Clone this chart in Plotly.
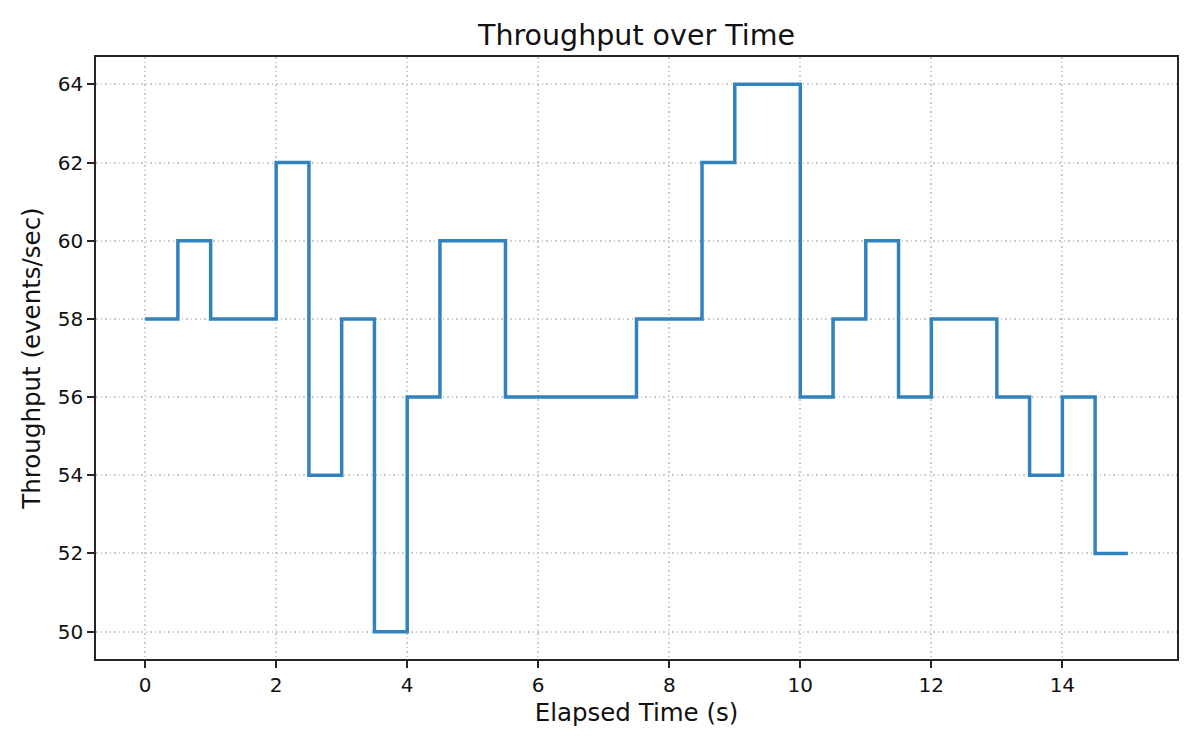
import plotly.graph_objects as go

# elapsed time (s) and throughput (events/sec), step plot (post)
elapsed = [0, 0.5, 1, 1.5, 2, 2.5, 3, 3.5, 4, 4.5, 5, 5.5, 6, 6.5, 7, 7.5,
           8, 8.5, 9, 9.5, 10, 10.5, 11, 11.5, 12, 12.5, 13, 13.5, 14, 14.5, 15]
throughput = [58, 60, 58, 58, 62, 54, 58, 50, 56, 60, 60, 56, 56, 56, 56, 58,
              58, 62, 64, 64, 56, 58, 60, 56, 58, 58, 56, 54, 56, 52, 52]

x_ticks = [0, 2, 4, 6, 8, 10, 12, 14]
y_ticks = [50, 52, 54, 56, 58, 60, 62, 64]

fig = go.Figure()
fig.add_trace(go.Scatter(
    x=elapsed,
    y=throughput,
    mode='lines',
    line=dict(shape='hv', color='#3182bd', width=3.5),
    showlegend=False
))

axis_common = dict(
    showline=True,
    linecolor='#262626',
    linewidth=1.7,
    mirror=True,
    ticks='outside',
    ticklen=7,
    tickwidth=1.7,
    tickcolor='#262626',
    showgrid=True,
    gridcolor='#cccccc',
    griddash='1.7px,2.8px',
    gridwidth=1.6,
    zeroline=False,
    tickfont=dict(family='DejaVu Sans', size=20, color='#111111'),
)

# page body adds an 8px offset, so margins are shifted to compensate
fig.update_layout(
    width=1200,
    height=750,
    plot_bgcolor='white',
    paper_bgcolor='white',
    margin=dict(l=88, r=31, t=49, b=99),
    title=dict(text='Throughput over Time', x=0.5, xanchor='center',
               xref='paper',
               y=0.964, yanchor='middle',
               font=dict(family='DejaVu Sans', size=28.5, color='#111111')),
    xaxis=dict(axis_common, range=[-0.75, 15.75], tickvals=x_ticks,
               title=dict(text='Elapsed Time (s)', standoff=8,
                          font=dict(family='DejaVu Sans', size=24.5, color='#111111'))),
    yaxis=dict(axis_common, range=[49.3, 64.7], tickvals=y_ticks,
               title=dict(text='Throughput (events/sec)', standoff=10,
                          font=dict(family='DejaVu Sans', size=24.5, color='#111111'))),
)

fig.write_html("out.html")
